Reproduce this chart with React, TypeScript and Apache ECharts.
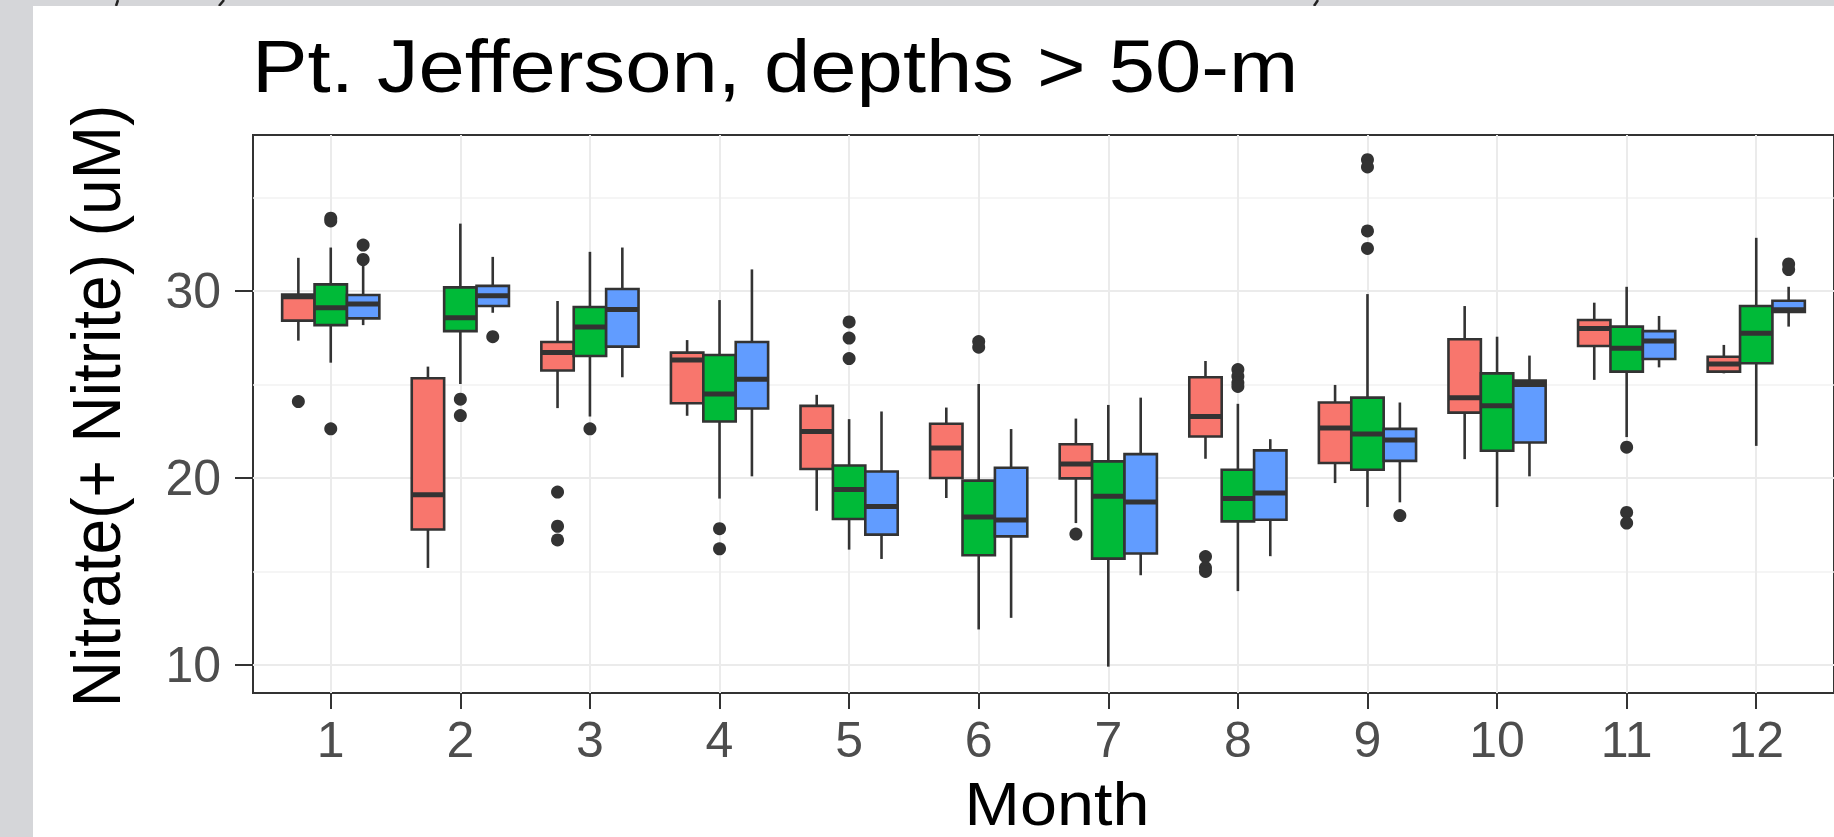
import React, { useEffect, useRef } from "react";
import * as echarts from "echarts";

// ---------- data ----------
const months = [1, 2, 3, 4, 5, 6, 7, 8, 9, 10, 11, 12];
const yTicks = [10, 20, 30];
const yMinorTicks = [15, 25, 35];

// [lower whisker, Q1, median, Q3, upper whisker] per month
const redStats = [
  [27.35, 28.42, 29.7, 29.82, 31.78],
  [15.19, 17.25, 19.1, 25.34, 25.96],
  [23.74, 25.75, 26.71, 27.28, 29.47],
  [23.33, 24.0, 26.32, 26.71, 27.38],
  [18.25, 20.48, 22.49, 23.86, 24.45],
  [18.93, 20.0, 21.6, 22.9, 23.77],
  [17.59, 19.98, 20.75, 21.81, 23.18],
  [21.03, 22.22, 23.29, 25.39, 26.26],
  [19.73, 20.8, 22.67, 24.04, 24.98],
  [21.01, 23.5, 24.3, 27.42, 29.2],
  [25.25, 27.06, 28.0, 28.45, 29.38],
  [25.6, 25.69, 26.1, 26.49, 27.12],
];
const greenStats = [
  [26.17, 28.18, 29.11, 30.36, 32.33],
  [25.03, 27.86, 28.57, 30.2, 33.61],
  [23.29, 26.53, 28.08, 29.15, 32.1],
  [18.9, 23.02, 24.5, 26.58, 29.52],
  [16.17, 17.81, 19.38, 20.67, 23.15],
  [11.9, 15.87, 17.92, 19.86, 25.03],
  [9.91, 15.69, 19.02, 20.89, 23.91],
  [13.95, 17.68, 18.9, 20.44, 23.97],
  [18.45, 20.44, 22.35, 24.3, 29.84],
  [18.45, 21.46, 23.86, 25.6, 27.56],
  [22.19, 25.69, 26.94, 28.1, 30.23],
  [21.72, 26.14, 27.74, 29.2, 32.85],
];
const blueStats = [
  [28.18, 28.54, 29.31, 29.79, 31.4],
  [28.84, 29.2, 29.75, 30.28, 31.83],
  [25.39, 27.03, 29.02, 30.11, 32.33],
  [20.09, 23.72, 25.29, 27.28, 31.16],
  [15.67, 16.97, 18.48, 20.35, 23.56],
  [12.52, 16.88, 17.75, 20.55, 22.62],
  [14.8, 15.96, 18.72, 21.28, 24.3],
  [15.82, 17.77, 19.2, 21.48, 22.08],
  [18.7, 20.92, 22.04, 22.63, 24.04],
  [20.09, 21.9, 25.0, 25.21, 26.55],
  [25.92, 26.37, 27.33, 27.86, 28.67],
  [28.1, 28.89, 29.0, 29.48, 30.23],
];

// [month, value]
const redOutliers = [
  [1, 24.09], [3, 19.25], [3, 17.42], [3, 16.69], [7, 17.0],
  [8, 15.8], [8, 15.2], [8, 15.0],
];
const greenOutliers = [
  [1, 33.9], [1, 33.75], [1, 22.63], [2, 24.22], [2, 23.34], [3, 22.63],
  [4, 17.29], [4, 16.21], [5, 28.35], [5, 27.49], [5, 26.39], [6, 27.3],
  [6, 27.0], [8, 25.8], [8, 25.45], [8, 25.1], [8, 24.9], [9, 37.03],
  [9, 36.64], [9, 33.22], [9, 32.28], [11, 21.65], [11, 18.16], [11, 17.59],
];
const blueOutliers = [
  [1, 32.46], [1, 31.69], [2, 27.56], [9, 17.99], [12, 31.45], [12, 31.15],
];

// ---------- styling ----------
const FONT = "'Liberation Sans', Arial, Helvetica, sans-serif";
const INK = "#333333";
const BOX_W = 0.25;

const groups = [
  { color: "#F8766D", offset: -0.25, stats: redStats, outliers: redOutliers },
  { color: "#00BA38", offset: 0, stats: greenStats, outliers: greenOutliers },
  { color: "#619CFF", offset: 0.25, stats: blueStats, outliers: blueOutliers },
];

function boxRender(offset: number, color: string) {
  return (_params: any, api: any) => {
    const x = api.value(0) + offset;
    const low = api.coord([x, api.value(1)]);
    const q1 = api.coord([x, api.value(2)]);
    const med = api.coord([x, api.value(3)]);
    const q3 = api.coord([x, api.value(4)]);
    const high = api.coord([x, api.value(5)]);
    const w = api.size([BOX_W, 0])[0];
    const cx = q1[0];
    const lw = 2.6;
    return {
      type: "group",
      children: [
        { type: "line", shape: { x1: cx, y1: q3[1], x2: cx, y2: high[1] }, style: { stroke: INK, lineWidth: lw } },
        { type: "line", shape: { x1: cx, y1: q1[1], x2: cx, y2: low[1] }, style: { stroke: INK, lineWidth: lw } },
        {
          type: "rect",
          shape: { x: cx - w / 2, y: q3[1], width: w, height: q1[1] - q3[1] },
          style: { fill: color, stroke: INK, lineWidth: lw },
        },
        {
          type: "line",
          shape: { x1: cx - w / 2, y1: med[1], x2: cx + w / 2, y2: med[1] },
          style: { stroke: INK, lineWidth: 5 },
        },
      ],
    };
  };
}

function dotRender(offset: number) {
  return (_params: any, api: any) => {
    const p = api.coord([api.value(0) + offset, api.value(1)]);
    return { type: "circle", shape: { cx: p[0], cy: p[1], r: 6.5 }, style: { fill: INK } };
  };
}

function txt(text: string, x: number, y: number, fontSize: number, align: string, extra: any = {}) {
  return {
    type: "text",
    x,
    y,
    silent: true,
    ...extra,
    style: {
      text,
      fontSize,
      fontFamily: FONT,
      fill: "#000",
      textAlign: align,
      textVerticalAlign: "middle",
      align,
      verticalAlign: "middle",
    },
  };
}

// small descender strokes of the slide text cut off by the frame
function stroke(x1: number, y1: number, x2: number, y2: number) {
  return {
    type: "line",
    z: -19.5,
    silent: true,
    shape: { x1, y1, x2, y2 },
    style: { stroke: "#222", lineWidth: 2.5 },
  };
}

export default function App() {
  const ref = useRef<HTMLDivElement>(null);
  useEffect(() => {
    const chart = echarts.init(ref.current!, undefined, { renderer: "svg", width: 1834, height: 837 });
    const series: any[] = [];
    groups.forEach((g) => {
      series.push({
        type: "custom",
        renderItem: boxRender(g.offset, g.color),
        data: months.map((m, i) => [m, ...g.stats[i]]),
        encode: { x: 0, y: [1, 2, 3, 4, 5] },
        z: 3,
      });
      series.push({
        type: "custom",
        renderItem: dotRender(g.offset),
        data: g.outliers,
        encode: { x: 0, y: 1 },
        z: 4,
      });
    });
    chart.setOption({
      animation: false,
      backgroundColor: "#d5d6d9",
      graphic: [
        { type: "rect", z: -20, silent: true, shape: { x: 0, y: 0, width: 1834, height: 837 }, style: { fill: "#d5d6d9" } },
        stroke(118, 0, 116, 6),
        stroke(224, 0, 219, 6),
        stroke(1318, 0, 1314, 6),
        { type: "rect", z: -19, silent: true, shape: { x: 33, y: 6, width: 1801, height: 831 }, style: { fill: "#ffffff" } },
        txt("Pt. Jefferson, depths > 50-m", 252, 66, 75, "left", { scaleX: 1.11 }),
        txt("Month", 1057, 804, 61, "center", { scaleX: 1.09 }),
        txt("Nitrate(+ Nitrite) (uM)", 96, 406, 64, "center", { rotation: Math.PI / 2, scaleY: 1.08 }),
      ],
      grid: {
        left: 253,
        top: 135,
        width: 1607,
        height: 558,
        show: true,
        borderColor: INK,
        borderWidth: 2,
        backgroundColor: "transparent",
        containLabel: false,
      },
      xAxis: {
        type: "value",
        min: 0.4,
        max: 12.6,
        axisLine: { show: false },
        axisTick: { show: true, customValues: months, length: 16, lineStyle: { color: INK, width: 2 } },
        axisLabel: { customValues: months, fontSize: 50, fontFamily: FONT, color: "#4d4d4d", margin: 22 },
        splitLine: { show: true, lineStyle: { color: "#ebebeb", width: 2 } },
      },
      yAxis: [
        {
          type: "value",
          min: 8.5,
          max: 38.35,
          axisLine: { show: false },
          axisTick: { show: true, customValues: yTicks, length: 18, lineStyle: { color: INK, width: 2 } },
          axisLabel: { customValues: yTicks, fontSize: 50, fontFamily: FONT, color: "#4d4d4d", margin: 32 },
          splitLine: { show: true, lineStyle: { color: "#ebebeb", width: 2 } },
        },
        {
          type: "value",
          position: "left",
          min: 8.5,
          max: 38.35,
          axisLine: { show: false },
          axisTick: { show: false, customValues: yMinorTicks },
          axisLabel: { show: false, customValues: yMinorTicks },
          splitLine: { show: true, lineStyle: { color: "#f2f2f2", width: 1.5 } },
        },
      ],
      series,
    });
    return () => chart.dispose();
  }, []);
  return <div ref={ref} style={{ position: "fixed", left: 0, top: 0, width: 1834, height: 837 }} />;
}
